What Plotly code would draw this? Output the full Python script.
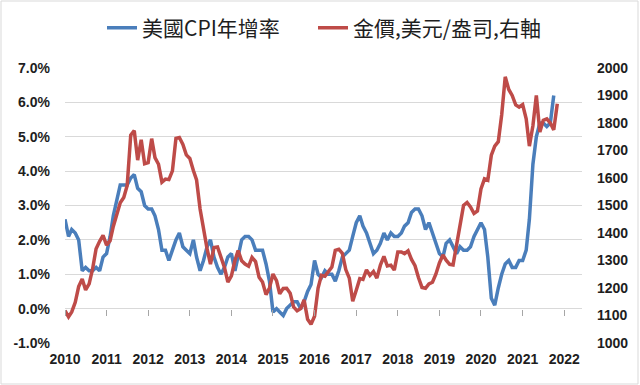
import plotly.graph_objects as go
import pandas as pd

# US CPI YoY (%), monthly Jan 2010 - Oct 2021
cpi_yoy = [
    2.6, 2.1, 2.3, 2.2, 2.0, 1.1, 1.2, 1.1, 1.1, 1.2, 1.1, 1.5,
    1.6, 2.1, 2.7, 3.2, 3.6, 3.6, 3.6, 3.8, 3.9, 3.5, 3.4, 3.0,
    2.9, 2.9, 2.7, 2.3, 1.7, 1.7, 1.4, 1.7, 2.0, 2.2, 1.8, 1.7,
    1.6, 2.0, 1.5, 1.1, 1.4, 1.8, 2.0, 1.5, 1.2, 1.0, 1.2, 1.5,
    1.6, 1.1, 1.5, 2.0, 2.1, 2.1, 2.0, 1.7, 1.7, 1.7, 1.3, 0.8,
    -0.1, 0.0, -0.1, -0.2, 0.0, 0.1, 0.2, 0.2, 0.0, 0.2, 0.5, 0.7,
    1.4, 1.0, 0.9, 1.1, 1.0, 1.0, 0.8, 1.1, 1.5, 1.6, 1.7, 2.1,
    2.5, 2.7, 2.4, 2.2, 1.9, 1.6, 1.7, 1.9, 2.2, 2.0, 2.2, 2.1,
    2.1, 2.2, 2.4, 2.5, 2.8, 2.9, 2.9, 2.7, 2.3, 2.5, 2.2, 1.9,
    1.6, 1.5, 1.9, 2.0, 1.8, 1.6, 1.8, 1.7, 1.7, 1.8, 2.1, 2.3,
    2.5, 2.3, 1.5, 0.3, 0.1, 0.6, 1.0, 1.3, 1.4, 1.2, 1.2, 1.4,
    1.4, 1.7, 2.6, 4.2, 5.0, 5.4, 5.4, 5.3, 5.4, 6.2,
]

# Gold price (USD/oz), monthly Jan 2010 - Nov 2021
gold_price = [
    1118, 1095, 1113, 1148, 1205, 1233, 1193, 1215, 1271, 1343, 1370, 1391,
    1356, 1372, 1424, 1474, 1510, 1529, 1573, 1756, 1772, 1665, 1739, 1652,
    1656, 1743, 1674, 1650, 1585, 1596, 1594, 1626, 1744, 1747, 1722, 1684,
    1671, 1627, 1593, 1487, 1414, 1343, 1287, 1347, 1349, 1316, 1275, 1221,
    1244, 1300, 1336, 1299, 1287, 1279, 1311, 1296, 1239, 1222, 1176, 1200,
    1251, 1227, 1179, 1198, 1199, 1181, 1131, 1117, 1125, 1157, 1086, 1068,
    1097, 1200, 1246, 1243, 1260, 1276, 1337, 1341, 1326, 1267, 1236, 1152,
    1192, 1234, 1231, 1266, 1246, 1260, 1236, 1283, 1315, 1280, 1283, 1265,
    1331, 1331, 1325, 1335, 1304, 1281, 1238, 1202, 1199, 1215, 1221, 1250,
    1291, 1320, 1301, 1286, 1284, 1359, 1413, 1500, 1511, 1495, 1471, 1480,
    1560, 1597, 1592, 1683, 1716, 1732, 1830, 1968, 1922, 1900, 1866, 1858,
    1867, 1815, 1716, 1790, 1900, 1767, 1810, 1815, 1800, 1775, 1870,
]

years = list(range(2010, 2023))
year_labels = [str(y) for y in years]
left_ticks = [-1, 0, 1, 2, 3, 4, 5, 6, 7]
left_labels = [f"{v:.1f}%" for v in left_ticks]
right_ticks = list(range(1000, 2001, 100))

cpi_dates = pd.date_range("2010-01-01", periods=len(cpi_yoy), freq="MS")
gold_dates = pd.date_range("2010-01-01", periods=len(gold_price), freq="MS")
year_dates = [f"{y}-01-01" for y in years]

BLUE = "#4A7EBB"
RED = "#BE4B48"
TXT = "#1e1e1e"
GRID = "#d9d9d9"
XR = ["2010-01-01", "2022-06-06"]

fig = go.Figure()
fig.add_trace(go.Scatter(x=cpi_dates, y=cpi_yoy, name="美國CPI年增率",
                         mode="lines", line=dict(color=BLUE, width=3.5),
                         yaxis="y", legend="legend"))
fig.add_trace(go.Scatter(x=gold_dates, y=gold_price, name="金價,美元/盎司,右軸",
                         mode="lines", line=dict(color=RED, width=3.5),
                         yaxis="y2", legend="legend2"))
# helper (empty) trace so the tick-mark axis crossing at 0% is drawn
fig.add_trace(go.Scatter(x=[None], y=[None], xaxis="x2", yaxis="y",
                         showlegend=False, hoverinfo="skip"))

tickfont = dict(family="Liberation Sans", size=14, color=TXT, weight="bold")
legfont = dict(family="Noto Sans CJK TC", size=21, color=TXT)

fig.update_layout(
    width=640, height=385,
    margin=dict(l=65, r=58, t=68, b=42, autoexpand=False),
    paper_bgcolor="white", plot_bgcolor="white",
    showlegend=True,
    legend=dict(orientation="h", x=(102 - 65) / 517, xanchor="left", y=1.145,
                yanchor="middle", font=legfont, itemwidth=30,
                bgcolor="rgba(0,0,0,0)"),
    legend2=dict(orientation="h", x=(313 - 65) / 517, xanchor="left", y=1.145,
                 yanchor="middle", font=legfont, itemwidth=30,
                 bgcolor="rgba(0,0,0,0)"),
    xaxis=dict(range=XR, type="date", tickvals=year_dates, ticktext=year_labels,
               showgrid=False, zeroline=False, showline=False, ticks="",
               tickfont=tickfont, ticklabelstandoff=6, automargin=False),
    xaxis2=dict(range=XR, type="date", overlaying="x", anchor="free", position=0.125,
                side="bottom", tickvals=year_dates, showticklabels=False,
                ticks="outside", ticklen=6, tickwidth=1, tickcolor="#a6a6a6",
                showgrid=False, zeroline=False, showline=False, automargin=False),
    yaxis=dict(range=[-1, 7], tickvals=left_ticks, ticktext=left_labels,
               showgrid=True, gridcolor=GRID, gridwidth=1.3, zeroline=False,
               showline=False, tickfont=tickfont, ticklabelstandoff=14, automargin=False),
    yaxis2=dict(range=[1000, 2000], tickvals=right_ticks, overlaying="y", side="right",
                showgrid=False, zeroline=False, showline=False, tickfont=tickfont,
                ticklabelstandoff=14, automargin=False),
    shapes=[dict(type="rect", xref="paper", yref="paper",
                 x0=-64 / 517, x1=1 + 56 / 517, y0=-41 / 275, y1=1 + 67 / 275,
                 line=dict(color="#d9d9d9", width=1), fillcolor="rgba(0,0,0,0)",
                 layer="below")],
)

fig.write_html("out.html", config={"displayModeBar": False},
               post_script="document.body.style.margin='0px';")
